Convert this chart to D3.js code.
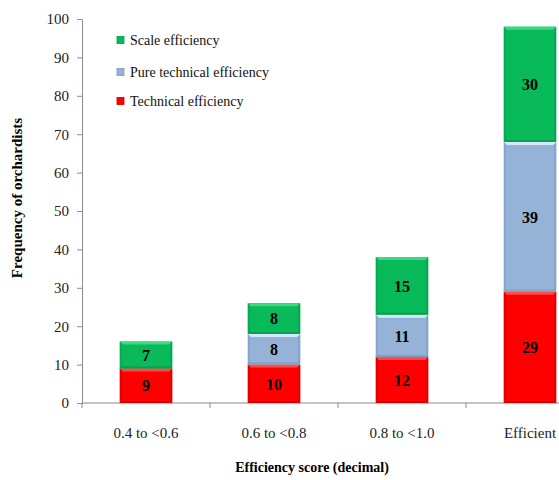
<!DOCTYPE html>
<html>
<head>
<meta charset="utf-8">
<script src="https://cdn.jsdelivr.net/npm/d3@7/dist/d3.min.js"></script>
<style>
  html, body { margin: 0; padding: 0; background: #fff; }
  svg { display: block; }
</style>
</head>
<body>
<svg id="chart" width="559" height="480"></svg>
<script>
// Score classes on the x axis
const categories = ["0.4 to <0.6", "0.6 to <0.8", "0.8 to <1.0", "Efficient"];
// Number of orchardists in each class, per efficiency measure
const technical = [9, 10, 12, 29];
const pureTechnical = [0, 8, 11, 39];
const scale = [7, 8, 15, 30];
const yTicks = [0, 10, 20, 30, 40, 50, 60, 70, 80, 90, 100];

const FONT = "'Liberation Serif', serif";

const seriesNames = ["Technical efficiency", "Pure technical efficiency", "Scale efficiency"];
const seriesValues = [technical, pureTechnical, scale];
const colors = {
  "Technical efficiency": { fill: "#FF0000", light: "#FF4A4A", dark: "#C80000" },
  "Pure technical efficiency": { fill: "#95B3D7", light: "#D6E8FA", dark: "#7A98BC" },
  "Scale efficiency": { fill: "#08BA5A", light: "#3DD884", dark: "#079A4B" }
};

const svg = d3.select("#chart").style("font-family", FONT);
const margin = { left: 82, top: 19, bottom: 403 };

const x = d3.scaleBand()
  .domain(categories)
  .range([margin.left, margin.left + 128 * categories.length])
  .paddingInner(0.59)
  .paddingOuter(0.295);

const y = d3.scaleLinear().domain([0, 100]).range([margin.bottom, margin.top]);

// Stack the three measures per class
const rows = categories.map((c, i) => {
  const r = { category: c };
  seriesNames.forEach((s, k) => { r[s] = seriesValues[k][i]; });
  return r;
});
const stacked = d3.stack().keys(seriesNames)(rows);

// Y axis
const yAxis = svg.append("g")
  .attr("transform", `translate(${margin.left},0)`)
  .call(d3.axisLeft(y).tickValues(yTicks).tickSize(5).tickPadding(8));
yAxis.attr("font-family", null);
yAxis.select(".domain").attr("stroke", "#8c8c8c");
yAxis.selectAll(".tick line").attr("stroke", "#8c8c8c");
yAxis.selectAll(".tick text")
  .attr("font-size", 15)
  .attr("fill", "#222")
  .style("font-family", FONT);

// X axis line with separators between classes
const gx = svg.append("g");
gx.append("line")
  .attr("x1", margin.left).attr("x2", 559)
  .attr("y1", y(0)).attr("y2", y(0))
  .attr("stroke", "#8c8c8c");
const step = x.step();
d3.range(categories.length + 1).forEach(i => {
  const xp = margin.left + i * step;
  gx.append("line")
    .attr("x1", xp).attr("x2", xp)
    .attr("y1", y(0)).attr("y2", y(0) + 5)
    .attr("stroke", "#8c8c8c");
});
gx.selectAll("text.cat")
  .data(categories)
  .join("text")
  .attr("class", "cat")
  .attr("x", d => x(d) + x.bandwidth() / 2)
  .attr("y", y(0) + 35)
  .attr("text-anchor", "middle")
  .attr("font-size", 15)
  .attr("fill", "#222")
  .style("font-family", FONT)
  .text(d => d);

// Bevelled bar segments
const bev = 3;
const layers = svg.append("g");
stacked.forEach(layer => {
  const col = colors[layer.key];
  layer.forEach((d, i) => {
    const v = d[1] - d[0];
    if (v <= 0) return;
    const cat = categories[i];
    const x0 = x(cat), x1 = x(cat) + x.bandwidth();
    const yt = y(d[1]), yb = y(d[0]);
    const g = layers.append("g");
    g.append("rect")
      .attr("x", x0).attr("y", yt)
      .attr("width", x1 - x0).attr("height", yb - yt)
      .attr("fill", col.fill);
    // top highlight
    g.append("polygon")
      .attr("points", [[x0, yt], [x1, yt], [x1 - bev, yt + bev], [x0 + bev, yt + bev]].join(" "))
      .attr("fill", col.light);
    // sides
    g.append("polygon")
      .attr("points", [[x0, yt], [x0 + 2, yt + 2], [x0 + 2, yb - 2], [x0, yb]].join(" "))
      .attr("fill", col.dark).attr("opacity", 0.5);
    g.append("polygon")
      .attr("points", [[x1, yt], [x1 - 2, yt + 2], [x1 - 2, yb - 2], [x1, yb]].join(" "))
      .attr("fill", col.dark).attr("opacity", 0.6);
    // bottom shade
    g.append("polygon")
      .attr("points", [[x0, yb], [x1, yb], [x1 - 2, yb - 2], [x0 + 2, yb - 2]].join(" "))
      .attr("fill", col.dark).attr("opacity", 0.8);
    // value label
    g.append("text")
      .attr("x", (x0 + x1) / 2)
      .attr("y", (yt + yb) / 2)
      .attr("dy", "0.36em")
      .attr("text-anchor", "middle")
      .attr("font-size", 16)
      .attr("font-weight", "bold")
      .attr("fill", "#000")
      .style("font-family", FONT)
      .text(v);
  });
});

// Legend
const legendItems = [
  { name: "Scale efficiency", y: 40 },
  { name: "Pure technical efficiency", y: 72 },
  { name: "Technical efficiency", y: 101 }
];
const legend = svg.append("g");
legendItems.forEach(it => {
  const col = colors[it.name];
  legend.append("rect")
    .attr("x", 117).attr("y", it.y - 3.5)
    .attr("width", 7).attr("height", 7)
    .attr("fill", col.fill)
    .attr("stroke", col.dark).attr("stroke-width", 0.8);
  legend.append("text")
    .attr("x", 130).attr("y", it.y)
    .attr("dy", "0.35em")
    .attr("font-size", 14)
    .attr("fill", "#111")
    .style("font-family", FONT)
    .text(it.name);
});

// Axis titles
svg.append("text")
  .attr("transform", `translate(22,198) rotate(-90)`)
  .attr("text-anchor", "middle")
  .attr("font-size", 15)
  .attr("font-weight", "bold")
  .style("font-family", FONT)
  .text("Frequency of orchardists");

svg.append("text")
  .attr("x", 312).attr("y", 472)
  .attr("text-anchor", "middle")
  .attr("font-size", 14)
  .attr("font-weight", "bold")
  .style("font-family", FONT)
  .text("Efficiency score (decimal)");
</script>
</body>
</html>
